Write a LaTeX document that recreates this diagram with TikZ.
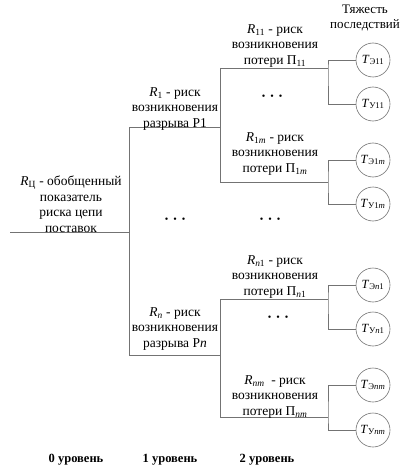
\documentclass[tikz,border=0pt]{standalone}
\usepackage{fontspec}
\setmainfont{Liberation Serif}
\usetikzlibrary{positioning}

\begin{document}
\begin{tikzpicture}[x=1pt,y=-1pt,
    txt/.style={align=center,font=\fontsize{13.5}{15.5}\selectfont,inner sep=0pt},
    lvl/.style={font=\fontsize{12.5}{14}\selectfont\bfseries,inner sep=0pt},
    cons/.style={circle,draw=black!55,line width=0.6pt,minimum size=34pt,inner sep=0pt,font=\fontsize{12.5}{13}\selectfont},
    dotsrow/.style={font=\normalsize,inner sep=0pt},
    ln/.style={draw=black!55,line width=0.6pt}]
\useasboundingbox (0,0) rectangle (402,468);

% tree joints
\coordinate (s0) at (10,232);
\coordinate (j0) at (129,232);
\coordinate (j1) at (129,127);
\coordinate (jn) at (129,355);
\coordinate (k1) at (220,127);
\coordinate (kn) at (220,355);
\coordinate (k11) at (220,68);
\coordinate (k1m) at (220,182);
\coordinate (kn1) at (220,299);
\coordinate (knm) at (220,417);
\coordinate (m11) at (328,68);
\coordinate (m1m) at (328,182);
\coordinate (mn1) at (328,299);
\coordinate (mnm) at (328,417);

% consequences
\node[cons] (te11) at (373,60) {\textit{T}\textsubscript{Э11}};
\node[cons] (tu11) at (373,104) {\textit{T}\textsubscript{У11}};
\node[cons] (te1m) at (373,160) {\textit{T}\textsubscript{Э1\textit{m}}};
\node[cons] (tu1m) at (373,204) {\textit{T}\textsubscript{У1\textit{m}}};
\node[cons] (ten1) at (373,285) {\textit{T}\textsubscript{Э\textit{n}1}};
\node[cons] (tun1) at (373,329) {\textit{T}\textsubscript{У\textit{n}1}};
\node[cons] (tenm) at (373,385) {\textit{T}\textsubscript{Э\textit{nm}}};
\node[cons] (tunm) at (373,430) {\textit{T}\textsubscript{У\textit{nm}}};

% lines
\draw[ln] (s0) -- (j0);
\draw[ln] (j1) -- (jn);
\draw[ln] (j1) -- (k1);
\draw[ln] (jn) -- (kn);
\draw[ln] (k11) -- (k1m);
\draw[ln] (kn1) -- (knm);
\draw[ln] (k11) -- (m11);
\draw[ln] (k1m) -- (m1m);
\draw[ln] (kn1) -- (mn1);
\draw[ln] (knm) -- (mnm);
\draw[ln] (te11.west) -| (m11) |- (tu11.west);
\draw[ln] (te1m.west) -| (m1m) |- (tu1m.west);
\draw[ln] (ten1.west) -| (mn1) |- (tun1.west);
\draw[ln] (tenm.west) -| (mnm) |- (tunm.west);

% labels
\node[txt] (rc) at (71,204) {\textit{R}\textsubscript{Ц} - обобщенный\\показатель\\риска цепи\\поставок};
\node[txt] (r1) at (175,109) {\textit{R}\textsubscript{1} - риск\\возникновения\\разрыва Р1};
\node[txt] (rn) at (175,329) {\textit{R}\textsubscript{\textit{n}} - риск\\возникновения\\разрыва Р\textit{n}};
\node[txt] (r11) at (275,46) {\textit{R}\textsubscript{11} - риск\\возникновения\\потери П\textsubscript{11}};
\node[txt] (r1m) at (275,154) {\textit{R}\textsubscript{1\textit{m}} - риск\\возникновения\\потери П\textsubscript{1\textit{m}}};
\node[txt] (rn1) at (275,277) {\textit{R}\textsubscript{\textit{n}1} - риск\\возникновения\\потери П\textsubscript{\textit{n}1}};
\node[txt] (rnm) at (275,397) {\textit{R}\textsubscript{\textit{nm}}\ \ - риск\\возникновения\\потери П\textsubscript{\textit{nm}}};
\node[txt,font=\fontsize{13}{15}\selectfont] (sev) at (365,18) {Тяжесть\\последствий};

\node[dotsrow] (d1) at (175,220) {\textbullet\enspace\textbullet\enspace\textbullet};
\node[dotsrow] (d2) at (270,220) {\textbullet\enspace\textbullet\enspace\textbullet};
\node[dotsrow] (d11) at (272,97) {\textbullet\enspace\textbullet\enspace\textbullet};
\node[dotsrow] (dn1) at (278,318) {\textbullet\enspace\textbullet\enspace\textbullet};

\node[lvl] (l0) at (76,460) {0 уровень};
\node[lvl] (l1) at (170,460) {1 уровень};
\node[lvl] (l2) at (267,460) {2 уровень};
\end{tikzpicture}
\end{document}
